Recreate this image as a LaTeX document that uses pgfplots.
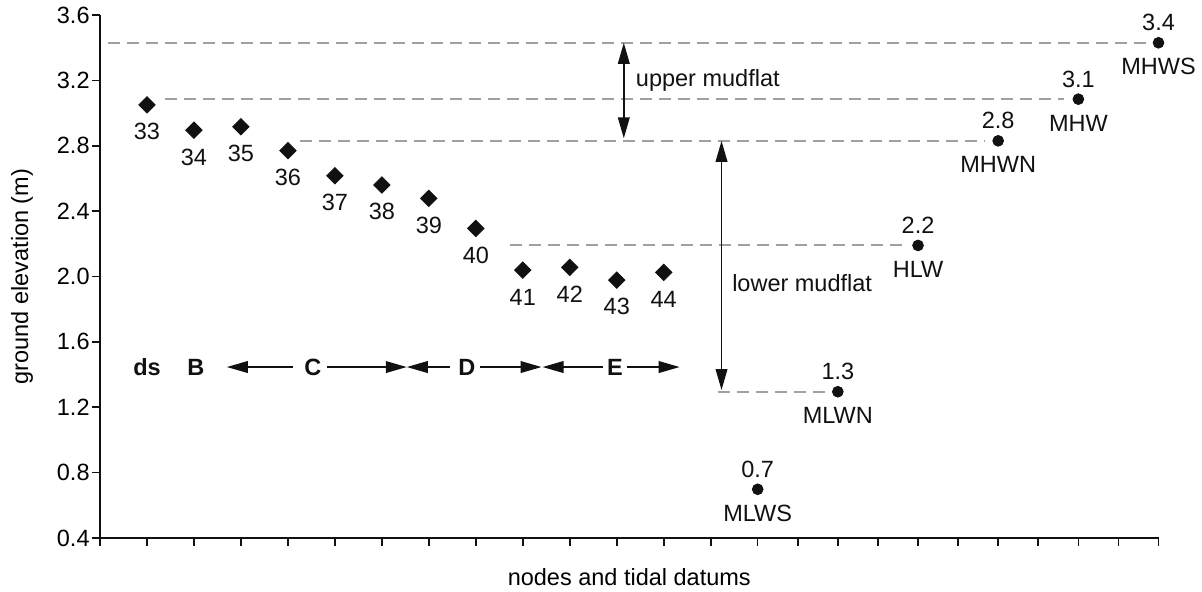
\documentclass[border=0pt]{standalone}
\usepackage{pgfplots}
\pgfplotsset{compat=1.18}
\usepackage{pgfplotstable}
\usepackage{fontspec}
\setmainfont{Liberation Sans}
\usetikzlibrary{arrows.meta}
\definecolor{dashgray}{HTML}{A0A0A0}
\definecolor{ink}{HTML}{111111}

\pgfplotstableread{
x y lab
1 3.050 33
2 2.895 34
3 2.916 35
4 2.770 36
5 2.616 37
6 2.560 38
7 2.478 39
8 2.294 40
9 2.039 41
10 2.056 42
11 1.978 43
12 2.025 44
}\nodes

\pgfplotstableread{
x y val name
14.000 0.698 0.7 MLWS
15.706 1.295 1.3 MLWN
17.413 2.190 2.2 HLW
19.119 2.830 2.8 MHWN
20.826 3.085 3.1 MHW
22.532 3.430 3.4 MHWS
}\datums

\begin{document}
\begin{tikzpicture}[font=\fontsize{11.75}{14}\selectfont]
\begin{axis}[
  scale only axis, width=529.25pt, height=261.5pt,
  xmin=0, xmax=22.532, ymin=0.4, ymax=3.6,
  clip=false,
  axis lines*=left,
  axis line style={line width=1pt, ink},
  tick align=outside,
  major tick length=4pt,
  tick style={ink, line width=0.8pt},
  xtick={0,1,2,3,4,5,6,7,8,9,10,11,12,13,14,14.853,15.706,16.560,17.413,18.266,19.119,19.972,20.826,21.679,22.532},
  xticklabels={},
  ytick={0.4,0.8,1.2,1.6,2.0,2.4,2.8,3.2,3.6},
  yticklabel style={/pgf/number format/fixed, /pgf/number format/fixed zerofill, /pgf/number format/precision=1, inner sep=1pt},
  /pgf/number format/assume math mode=true,
  xlabel={nodes and tidal datums},
  ylabel={ground elevation (m)},
  xlabel style={at={(axis description cs:0.5,-0.0746)}, anchor=center},
  ylabel style={at={(axis description cs:-0.0737,0.5)}, anchor=center},
]
% dashed datum lines
\addplot[dashgray, line width=1pt, dash pattern=on 6pt off 3.5pt] coordinates {(0.17,3.43) (22.33,3.43)};
\addplot[dashgray, line width=1pt, dash pattern=on 6pt off 3.5pt] coordinates {(1.38,3.085) (20.53,3.085)};
\addplot[dashgray, line width=1pt, dash pattern=on 6pt off 3.5pt] coordinates {(4.26,2.83) (18.83,2.83)};
\addplot[dashgray, line width=1pt, dash pattern=on 6pt off 3.5pt] coordinates {(8.72,2.19) (17.13,2.19)};
\addplot[dashgray, line width=1pt, dash pattern=on 6pt off 3.5pt] coordinates {(13.15,1.295) (15.43,1.295)};

% nodes (diamonds)
\addplot[only marks, mark=square*, mark size=2.9pt, mark options={rotate=45, fill=ink, draw=ink},
  point meta=explicit symbolic, nodes near coords,
  every node near coord/.append style={anchor=center, yshift=-13.4pt, inner sep=0pt, text=ink}]
  table[x=x, y=y, meta=lab] {\nodes};

% tidal datums (circles) with values above
\addplot[only marks, mark=*, mark size=2.7pt, mark options={fill=ink, draw=ink},
  point meta=explicit symbolic, nodes near coords,
  every node near coord/.append style={anchor=center, yshift=10pt, inner sep=0pt, text=ink}]
  table[x=x, y=y, meta=val] {\datums};
% names below
\addplot[draw=none, mark=none,
  point meta=explicit symbolic, nodes near coords,
  every node near coord/.append style={anchor=center, yshift=-12pt, inner sep=0pt, text=ink}]
  table[x=x, y=y, meta=name] {\datums};

% mudflat arrows
\draw[ink, line width=0.9pt, {Triangle[length=10.5pt,width=5.8pt]}-{Triangle[length=10.5pt,width=5.8pt]}]
  (axis cs:11.15,3.43) -- (axis cs:11.15,2.845);
\draw[ink, line width=0.9pt, {Triangle[length=10.5pt,width=5.8pt]}-{Triangle[length=10.5pt,width=5.8pt]}]
  (axis cs:13.23,2.83) -- (axis cs:13.23,1.305);
\node[anchor=west, inner sep=0pt, text=ink] at (axis cs:11.40,3.20) {upper mudflat};
\node[anchor=west, inner sep=0pt, text=ink] at (axis cs:13.45,1.96) {lower mudflat};

% zone labels
\node[inner sep=0pt, text=ink, font=\fontsize{11.75}{14}\selectfont\bfseries] at (axis cs:1.0,1.446) {ds};
\node[inner sep=0pt, text=ink, font=\fontsize{11.75}{14}\selectfont\bfseries] at (axis cs:2.04,1.446) {B};
\node[inner sep=0pt, text=ink, font=\fontsize{11.75}{14}\selectfont\bfseries] at (axis cs:4.53,1.446) {C};
\node[inner sep=0pt, text=ink, font=\fontsize{11.75}{14}\selectfont\bfseries] at (axis cs:7.81,1.446) {D};
\node[inner sep=0pt, text=ink, font=\fontsize{11.75}{14}\selectfont\bfseries] at (axis cs:10.96,1.446) {E};
\draw[ink, line width=0.9pt, -{Triangle[length=10.5pt,width=5.8pt]}] (axis cs:4.11,1.446) -- (axis cs:2.70,1.446);
\draw[ink, line width=0.9pt, -{Triangle[length=10.5pt,width=5.8pt]}] (axis cs:4.83,1.446) -- (axis cs:6.53,1.446);
\draw[ink, line width=0.9pt, -{Triangle[length=10.5pt,width=5.8pt]}] (axis cs:7.45,1.446) -- (axis cs:6.53,1.446);
\draw[ink, line width=0.9pt, -{Triangle[length=10.5pt,width=5.8pt]}] (axis cs:8.09,1.446) -- (axis cs:9.40,1.446);
\draw[ink, line width=0.9pt, -{Triangle[length=10.5pt,width=5.8pt]}] (axis cs:10.70,1.446) -- (axis cs:9.42,1.446);
\draw[ink, line width=0.9pt, -{Triangle[length=10.5pt,width=5.8pt]}] (axis cs:11.21,1.446) -- (axis cs:12.34,1.446);
\end{axis}
\pgfresetboundingbox
\useasboundingbox (-50pt,-27pt) rectangle (551pt,269pt);
\end{tikzpicture}
\end{document}
